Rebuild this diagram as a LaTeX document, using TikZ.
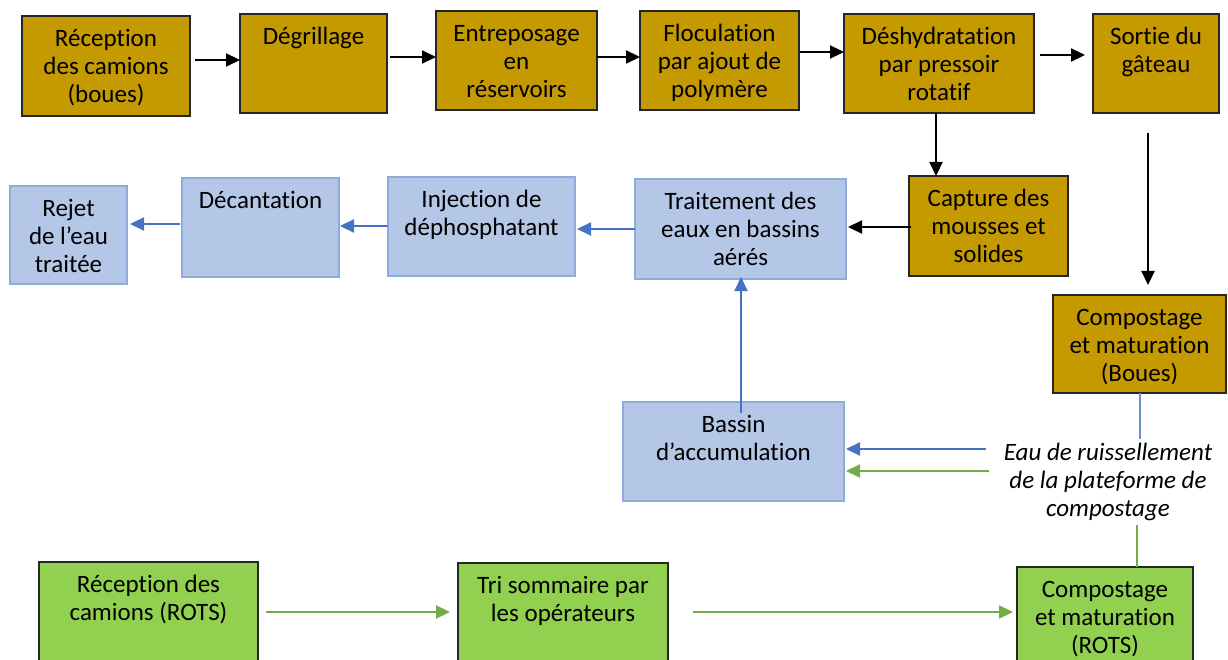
\documentclass[tikz,border=0pt]{standalone}
\usepackage{fontspec}
\setmainfont{Carlito}[Ligatures={NoCommon,NoRare,NoContextual}]
\usetikzlibrary{arrows.meta}
\definecolor{goldc}{RGB}{197,153,0}
\definecolor{bluefill}{RGB}{180,199,231}
\definecolor{bluedraw}{RGB}{143,170,220}
\definecolor{bluearr}{RGB}{68,114,196}
\definecolor{greenfill}{RGB}{146,208,80}
\definecolor{greenarr}{RGB}{112,173,71}
\newcommand{\bt}[3]{\parbox[c][#2pt][t]{#1pt}{\centering\fontsize{25}{28}\selectfont\vspace*{11pt}\strut #3\par}}
\tikzset{
  box/.style={inner sep=0pt, outer sep=0pt, line width=1.3pt},
  goldbox/.style={box, fill=goldc, draw=black!85},
  bluebox/.style={box, fill=bluefill, draw=bluedraw},
  greenbox/.style={box, fill=greenfill, draw=black!85},
  karr/.style={-{Triangle[length=14pt,width=13pt]}, line width=2.2pt, black},
  barr/.style={-{Triangle[length=14pt,width=13pt]}, line width=2.2pt, bluearr},
  garr/.style={-{Triangle[length=14pt,width=13pt]}, line width=2.2pt, greenarr},
  bline/.style={line width=1.4pt, bluearr!80},
  gline/.style={line width=1.4pt, greenarr},
}
\begin{document}
\begin{tikzpicture}[x=1pt,y=-1pt]
\useasboundingbox (0,0) rectangle (1228,660);
\clip (0,0) rectangle (1228,660);
% top row
\node[goldbox] (rc) at (106,66) {\bt{168}{100}{Réception\\des camions\\(boues)}};
\node[goldbox] (dg) at (313.5,63.5) {\bt{147}{99}{Dégrillage}};
\node[goldbox] (en) at (516.5,60.5) {\bt{161}{99}{Entreposage\\en\\réservoirs}};
\node[goldbox] (fl) at (719.5,60.5) {\bt{159}{99}{Floculation\\par ajout de\\polymère}};
\node[goldbox] (de) at (939,63.5) {\bt{190}{99}{Déshydratation\\par pressoir\\rotatif}};
\node[goldbox] (so) at (1156,63.5) {\bt{126}{99}{Sortie du\\gâteau}};
% second row
\node[goldbox] (ca) at (988.5,226) {\bt{159}{100}{Capture des\\mousses et\\solides}};
\node[bluebox] (tr) at (740.5,229) {\bt{211}{100}{Traitement des\\eaux en bassins\\aérés}};
\node[bluebox] (inj) at (481.5,226.5) {\bt{187}{99}{Injection de\\déphosphatant}};
\node[bluebox] (dec) at (260.5,227.5) {\bt{157}{99}{Décantation}};
\node[bluebox] (rej) at (68.5,235) {\bt{117}{98}{Rejet\\de l’eau\\traitée}};
% right column
\node[goldbox] (cb) at (1139.5,344) {\bt{173}{98}{Compostage\\et maturation\\(Boues)}};
\node[bluebox] (ba) at (733.5,451.5) {\bt{221}{99}{Bassin\\d’accumulation}};
\node[inner sep=4pt, align=center, font=\fontsize{25}{28}\selectfont\itshape] (eau) at (1108,482) {Eau de ruissellement\\de la plateforme de\\compostage};
% bottom row
\node[greenbox] (rr) at (148.5,622) {\bt{219}{120}{Réception des\\camions (ROTS)}};
\node[greenbox] (tri) at (563,623) {\bt{210}{120}{Tri sommaire par\\les opérateurs}};
\node[greenbox] (cr) at (1105,627) {\bt{176}{120}{Compostage\\et maturation\\(ROTS)}};
% black arrows
\draw[karr] ([xshift=5pt]rc.east |- 0,60) -- (dg.west |- 0,60);
\draw[karr] ([xshift=3pt]dg.east |- 0,57) -- (en.west |- 0,57);
\draw[karr] (en.east |- 0,57) -- (fl.west |- 0,57);
\draw[karr] ([xshift=1pt]fl.east |- 0,52) -- (de.west |- 0,52);
\draw[karr] ([xshift=6pt]de.east |- 0,55) -- ([xshift=-8pt]so.west |- 0,55);
\draw[karr] (de.south -| 936,0) -- (ca.north -| 936,0);
\draw[karr] ([yshift=-20pt]so.south -| 1148,0) -- ([yshift=10pt]cb.north -| 1148,0);
\draw[karr] ([xshift=2pt]ca.west |- 0,227) -- ([xshift=2pt]tr.east |- 0,227);
% blue arrows
\draw[barr] (tr.west |- 0,229) -- ([xshift=2pt]inj.east |- 0,229);
\draw[barr] (inj.west |- 0,226) -- ([xshift=1pt]dec.east |- 0,226);
\draw[barr] ([xshift=-2pt]dec.west |- 0,224) -- ([xshift=3pt]rej.east |- 0,224);
\draw[barr] ([yshift=-11pt]ba.north -| 741,0) -- ([yshift=2pt]tr.south -| 741,0);
\draw[bline] (cb.south -| 1140,0) -- (eau.north -| 1140,0);
\draw[barr] ([xshift=-14pt]eau.west |- 0,449) -- ([xshift=2pt]ba.east |- 0,449);
\draw[garr] ([xshift=-11pt]eau.west |- 0,471) -- ([xshift=2pt]ba.east |- 0,471);
\draw[gline] (cr.north -| 1137,0) -- (eau.south -| 1137,0);
% green arrows
\draw[garr] ([xshift=8pt]rr.east |- 0,612) -- ([xshift=-8pt]tri.west |- 0,612);
\draw[garr] ([xshift=25pt]tri.east |- 0,612) -- ([xshift=-4pt]cr.west |- 0,612);
\end{tikzpicture}
\end{document}
